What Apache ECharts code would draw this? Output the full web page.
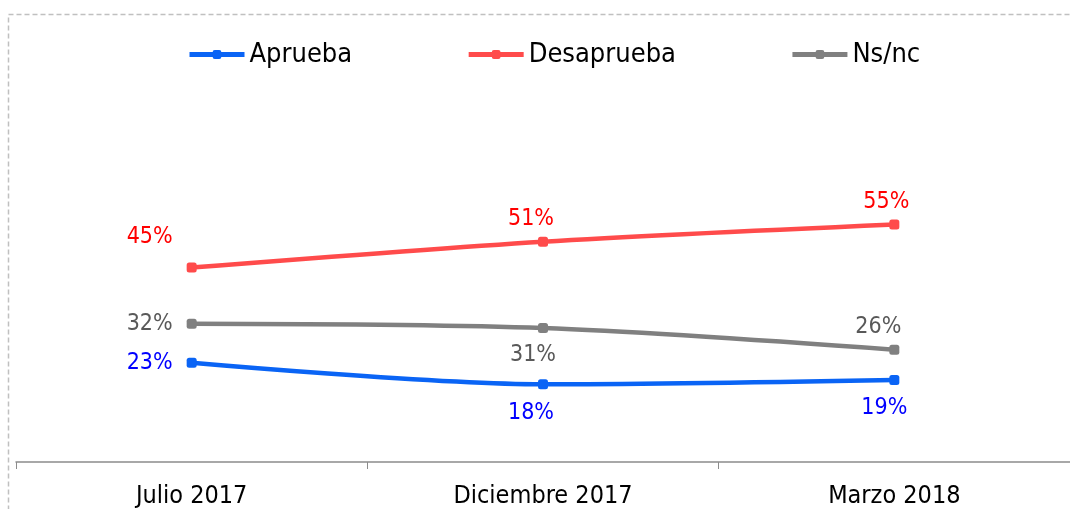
<!DOCTYPE html>
<html>
<head>
<meta charset="utf-8">
<script src="https://cdn.jsdelivr.net/npm/echarts@6/dist/echarts.min.js"></script>
<style>
html, body { margin: 0; padding: 0; background: #fff; }
#chart { width: 1070px; height: 509px; }
</style>
</head>
<body>
<div id="chart"></div>
<script>
var categorias = ["Julio 2017", "Diciembre 2017", "Marzo 2018"];
var aprueba = [23, 18, 19];
var desaprueba = [45, 51, 55];
var nsnc = [32, 31, 26];

var fuente = "'DejaVu Sans Condensed', 'DejaVu Sans'";

// posicion de cada etiqueta, por serie
function etiquetas(valores, posiciones, color) {
	return valores.map(function(v, i) {
		var p = posiciones[i];
		return {
			value: v,
			label: {
				show: true,
				position: p.pos,
				distance: p.dist,
				offset: p.off,
				color: color,
				fontFamily: fuente,
				fontSize: 23,
				formatter: "{c}%"
			}
		};
	});
}

var chart = echarts.init(document.getElementById('chart'));
chart.setOption({
	animation: false,
	graphic: [{
		type: 'rect',
		shape: { x: 8.5, y: 14.5, width: 1080, height: 520 },
		style: { fill: 'none', stroke: '#c0c0c0', lineWidth: 1.5, lineDash: [5, 3] },
		silent: true
	}],
	legend: {
		left: 182, top: 36,
		itemWidth: 55, itemHeight: 11, itemGap: 114, itemTextGap: 5,
		lineStyle: { width: 5 },
		textStyle: { fontFamily: fuente, fontSize: 27, color: '#000' },
		data: ['Aprueba', 'Desaprueba', 'Ns/nc']
	},
	grid: { left: 16, right: 0, top: 30, bottom: 46 },
	xAxis: {
		type: 'category',
		data: categorias,
		axisLine: { lineStyle: { color: '#8c8c8c', width: 1.5 } },
		axisTick: { show: true, length: 7, lineStyle: { color: '#8c8c8c' } },
		axisLabel: { color: '#000', fontFamily: fuente, fontSize: 25, margin: 22 }
	},
	yAxis: {
		type: 'value', min: 0, max: 100,
		show: false, splitLine: { show: false }
	},
	series: [{
		name: 'Aprueba', type: 'line', smooth: 0.3,
		symbol: 'roundRect', symbolSize: 10,
		lineStyle: { width: 4.5, color: '#0a64f5' },
		itemStyle: { color: '#0a64f5' },
		data: etiquetas(aprueba, [
			{ pos: 'left', dist: 14 },
			{ pos: 'bottom', dist: 12, off: [-12, 0] },
			{ pos: 'bottom', dist: 12, off: [-10, 0] }
		], '#0000ff')
	}, {
		name: 'Desaprueba', type: 'line', smooth: 0.3,
		symbol: 'roundRect', symbolSize: 10,
		lineStyle: { width: 4.5, color: '#ff4b4b' },
		itemStyle: { color: '#ff4b4b' },
		data: etiquetas(desaprueba, [
			{ pos: 'left', dist: 14, off: [0, -31] },
			{ pos: 'top', dist: 6, off: [-12, 0] },
			{ pos: 'top', dist: 6, off: [-8, 0] }
		], '#ff0000')
	}, {
		name: 'Ns/nc', type: 'line', smooth: 0.3,
		symbol: 'roundRect', symbolSize: 10,
		lineStyle: { width: 4.5, color: '#808080' },
		itemStyle: { color: '#808080' },
		data: etiquetas(nsnc, [
			{ pos: 'left', dist: 14 },
			{ pos: 'bottom', dist: 10, off: [-10, 0] },
			{ pos: 'top', dist: 6, off: [-16, 0] }
		], '#595959')
	}]
});
</script>
</body>
</html>
